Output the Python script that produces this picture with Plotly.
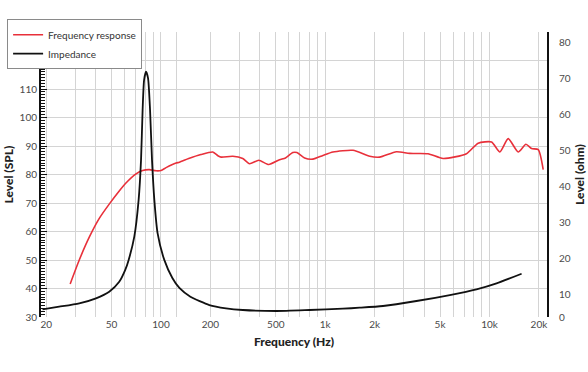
import numpy as np
import plotly.graph_objects as go

# Frequency response (dB SPL, left axis)
fr_freq = [28.0, 31.8, 36.6, 42.1, 48.4, 55.7, 61.2, 70.5, 77.3, 84.9, 93.3,
           100.1, 107.4, 123.6, 129.4, 147.5, 175, 206.6, 222, 232.5, 273.6, 314.8,
           345.8, 394, 453, 527, 573, 635, 672, 749, 841, 968, 1114, 1476, 1866,
           2145, 2712, 3268, 4227, 5222, 7245, 8532, 10300, 11568, 13000, 14960,
           16670, 18040, 19820, 21240]
fr_db = [41.6, 50.0, 58.0, 64.6, 69.6, 74.2, 77.0, 80.2, 81.4, 81.7, 81.3,
         81.4, 82.4, 84.0, 84.3, 85.6, 87.0, 87.9, 86.6, 86.1, 86.4, 85.6,
         83.8, 85.0, 83.5, 85.2, 85.8, 87.7, 87.7, 85.8, 85.4, 86.7, 87.9, 88.5, 86.4,
         86.1, 88.0, 87.4, 87.3, 85.6, 87.3, 91.0, 91.4, 87.9, 92.6, 87.9,
         90.6, 89.1, 88.7, 81.7]

# Impedance (ohm, right axis)
imp_freq = [19.0, 24.0, 31.8, 40.2, 48.4, 55.7, 60.6, 63.5, 68.8, 73.1, 75.6, 77.3,
            78.9, 81.1, 83.4, 85.8, 88.2, 91.1, 95.4, 104.9, 117.3, 129.4, 151, 197,
            249, 315, 503, 803, 1282, 1620, 2248, 3592, 5734, 8337, 11040, 15690]
imp_ohm = [5.98, 6.70, 7.64, 9.03, 10.86, 13.6, 16.9, 19.6, 26.1, 36.3, 47.3, 61.2,
           69.5, 71.8, 70.0, 61.2, 47.3, 36.3, 27.0, 19.6, 14.65, 11.9, 9.47, 7.17,
           6.26, 5.79, 5.51, 5.79, 6.15, 6.42, 6.90, 8.28, 9.94, 11.52, 13.18, 15.84]

# Axis ticks
x_grid = [20, 30, 40, 50, 60, 70, 80, 90, 100, 125, 200, 300, 400, 500, 600, 700, 800,
          900, 1000, 2000, 3000, 4000, 5000, 6000, 7000, 8000, 9000, 10000, 20000]
x_labels = {20: "20", 50: "50", 100: "100", 200: "200", 500: "500", 1000: "1k",
            2000: "2k", 5000: "5k", 10000: "10k", 20000: "20k"}
spl_ticks = [30, 40, 50, 60, 70, 80, 90, 100, 110, 120, 130]
spl_labels = ["30", "40", "50", "60", "70", "80", "90", "100", "110", "120", ""]
ohm_ticks = [3.85, 10, 20, 30, 40, 50, 60, 70, 80]
ohm_labels = ["0", "10", "20", "30", "40", "50", "60", "70", "80"]

FONT = "Lato"
TICKC = "#4a4a4a"
TITLEF = dict(size=12, color="#222222", family=FONT + " Black, " + FONT)

fig = go.Figure()
fig.add_trace(go.Scatter(x=fr_freq, y=fr_db, mode="lines", name="Frequency response",
                         line=dict(color="#e8303a", width=1.6, shape="spline", smoothing=0.6)))
fig.add_trace(go.Scatter(x=imp_freq, y=imp_ohm, mode="lines", name="Impedance", yaxis="y2",
                         line=dict(color="#111111", width=1.8, shape="spline", smoothing=0.6)))

fig.update_layout(
    width=588, height=372,
    margin=dict(l=41, r=41, t=32, b=55, autoexpand=False),
    paper_bgcolor="white", plot_bgcolor="white",
    font=dict(family=FONT, size=10, color=TICKC),
    showlegend=True,
    legend=dict(x=-0.067, y=1.045, xanchor="left", yanchor="top",
                bgcolor="white", bordercolor="#8a8a8a", borderwidth=1,
                font=dict(size=10, color="#333333"), tracegroupgap=0,
                itemwidth=30),
    xaxis=dict(type="log", range=[np.log10(18.6), np.log10(22400)],
               tickmode="array", tickvals=x_grid,
               ticktext=[x_labels.get(v, "") for v in x_grid],
               showgrid=True, gridcolor="#d4d4d4", gridwidth=1.3,
               showline=False, ticks="", zeroline=False,
               tickfont=dict(size=10, color=TICKC),
               title=dict(text="Frequency (Hz)", standoff=8, font=TITLEF)),
    yaxis=dict(range=[30, 130], tickmode="array", tickvals=spl_ticks, ticktext=spl_labels,
               showgrid=True, gridcolor="#d4d4d4", gridwidth=1.3,
               showline=True, linecolor="#111111", linewidth=2,
               ticks="inside", ticklen=6, tickwidth=1.3, tickcolor="#111111",
               minor=dict(dtick=1, ticks="inside", ticklen=4, tickwidth=1, tickcolor="#111111",
                          showgrid=False),
               zeroline=False, tickfont=dict(size=10, color=TICKC),
               title=dict(text="Level (SPL)", standoff=3, font=TITLEF)),
    yaxis2=dict(overlaying="y", side="right", range=[3.85, 82.8],
                tickmode="array", tickvals=ohm_ticks, ticktext=ohm_labels,
                showgrid=False, showline=True, linecolor="#111111", linewidth=2,
                ticks="", zeroline=False, tickfont=dict(size=10, color=TICKC),
                ticklabelstandoff=8,
                title=dict(text="Level (ohm)", standoff=6, font=TITLEF)),
)

fig.write_html("out.html", config={"displayModeBar": False},
               post_script="document.body.style.margin='0';")
